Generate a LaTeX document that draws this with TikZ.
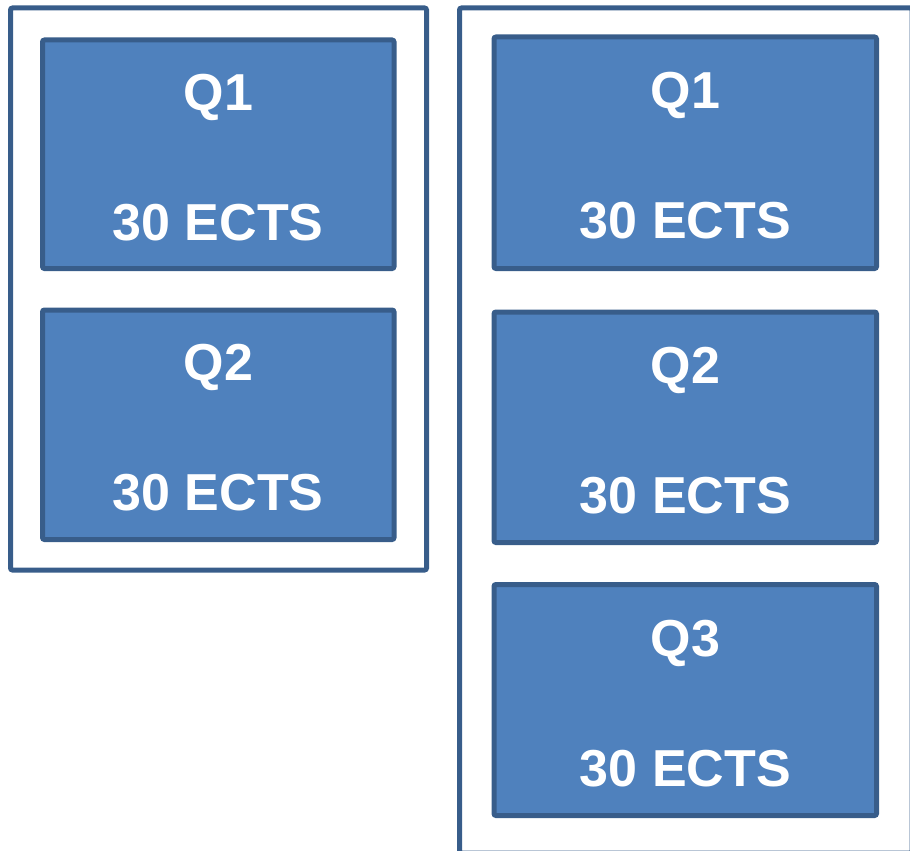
\documentclass[tikz,border=0pt]{standalone}
\usepackage{fontspec}
\setmainfont{Liberation Sans}
\definecolor{boxfill}{HTML}{4F81BD}
\definecolor{boxline}{HTML}{385D8A}
\begin{document}
\begin{tikzpicture}[x=1pt,y=-1pt,
  frame/.style={draw=boxline,line width=5pt,rounded corners=2pt},
  qbox/.style={draw=boxline,fill=boxfill,line width=5pt,rounded corners=2pt},
  qtext/.style={text=white,font=\fontsize{52}{60}\selectfont\bfseries,anchor=base,inner sep=0pt}]
\useasboundingbox (0,0) rectangle (910,851);
\clip (0,0) rectangle (910,851);
% frames
\draw[frame] (10.5,8) rectangle (426.5,570);
\draw[frame] (459.5,8) rectangle (912,853);
% boxes
\path[qbox] (42.5,40) rectangle (394,268.5) node[pos=0.5,inner sep=0pt] (l1) {};
\path[qbox] (42.5,310) rectangle (394,539.5) node[pos=0.5,inner sep=0pt] (l2) {};
\path[qbox] (494,37) rectangle (876.5,268.5) node[pos=0.5,inner sep=0pt] (r1) {};
\path[qbox] (494,312) rectangle (876.5,542.5) node[pos=0.5,inner sep=0pt] (r2) {};
\path[qbox] (494,584.5) rectangle (876.5,815.5) node[pos=0.5,inner sep=0pt] (r3) {};
% texts
\foreach \b/\q in {l1/Q1,l2/Q2,r1/Q1,r2/Q2,r3/Q3}{
  \node[qtext] (\b q) at ([yshift=44pt]\b.center) {\q};
  \node[qtext] (\b e) at ([yshift=-86pt]\b.center) {30 ECTS};
}
\end{tikzpicture}
\end{document}
